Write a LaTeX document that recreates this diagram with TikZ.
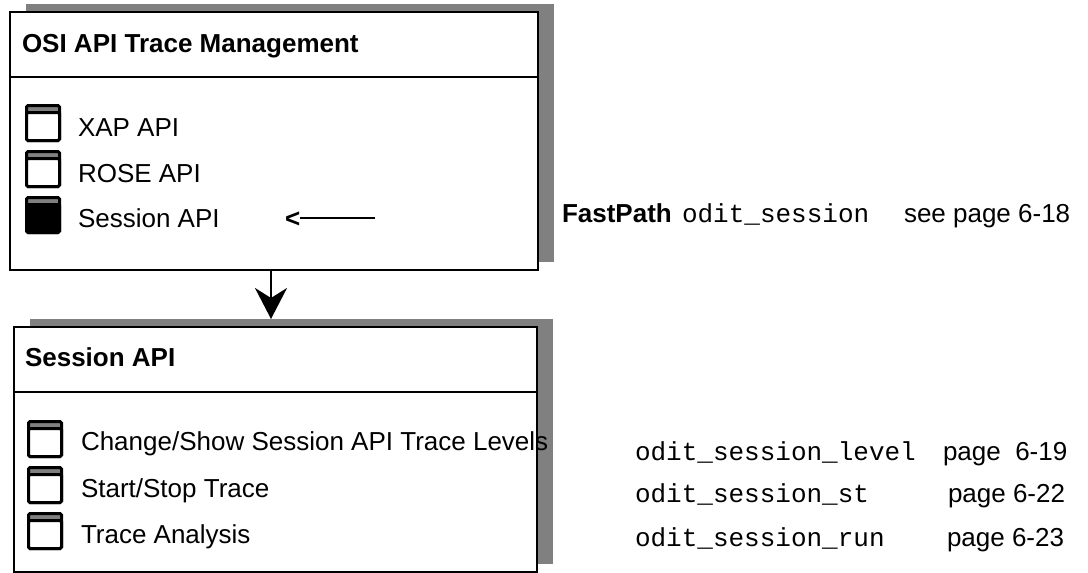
\documentclass[tikz,border=0pt]{standalone}
\usepackage{fontspec}
\setmainfont{Liberation Sans}
\setmonofont{Liberation Mono}
\usetikzlibrary{arrows.meta}
\newcommand\chkbox[3]{%
  \draw[line width=3pt, rounded corners=1.5pt, fill=black!50] (#1+1.5,#2+1.5) rectangle (#1+34.5,#2+36.5);
  \draw[line width=3pt, rounded corners=1.5pt, fill=#3] (#1+1.5,#2+8.5) rectangle (#1+34.5,#2+36.5);
}
\begin{document}
\begin{tikzpicture}[x=1pt,y=-1pt,
  shadowbox/.style={fill=black!50, draw=none, inner sep=0pt, outer sep=0pt, anchor=north west},
  mainbox/.style={fill=white, draw=black, line width=2.5pt, inner sep=0pt, outer sep=0pt, anchor=north west},
  lbl/.style={anchor=base west, inner sep=0pt, outer sep=0pt, font=\fontsize{26}{30}\selectfont},
  blbl/.style={lbl, font=\fontsize{26}{30}\selectfont\bfseries},
  mlbl/.style={lbl, font=\fontsize{26}{30}\selectfont\ttfamily},
  rule/.style={line width=2.5pt}
]
\useasboundingbox[fill=white] (0,0) rectangle (1088,573);

% top box
\node[shadowbox, minimum width=528pt, minimum height=258pt] (shadowA) at (26,4) {};
\node[mainbox, minimum width=528pt, minimum height=258pt] (topbox) at (10,12) {};
\draw[rule] (topbox.west |- 0,77) -- (topbox.east |- 0,77);
\node[blbl] (titleA) at (22,52) {OSI API Trace Management};
\chkbox{25}{104}{white}
\chkbox{25}{150}{white}
\chkbox{25}{196}{black}
\node[lbl] (xap) at (78,136) {XAP API};
\node[lbl] (rose) at (78,182) {ROSE API};
\node[lbl] (sess) at (78,227) {Session API};
\node[blbl] (lt) at (285,227) {<};
\coordinate (ltend) at (375,218);
\draw[rule] (lt.east |- ltend) -- (ltend);

% bottom box
\node[shadowbox, minimum width=523pt, minimum height=245pt] (shadowB) at (30,319) {};
\node[mainbox, minimum width=523pt, minimum height=245pt] (botbox) at (14,327) {};
\draw[rule] (botbox.west |- 0,392) -- (botbox.east |- 0,392);
\node[blbl] (titleB) at (25,366) {Session API};
\chkbox{27}{420}{white}
\chkbox{27}{466}{white}
\chkbox{27}{512}{white}
\node[lbl] (chg) at (81,450) {Change/Show Session API Trace Levels};
\node[lbl] (ss) at (81,497) {Start/Stop Trace};
\node[lbl] (ta) at (81,543) {Trace Analysis};

% arrow between boxes
\coordinate (arrX) at (271,0);
\draw[rule, -{Stealth[length=31pt, width=32pt, inset=10pt]}] (topbox.south -| arrX) -- (shadowB.north -| arrX);

% right texts
\node[blbl] (fp) at (562,222) {FastPath};
\node[mlbl] (os) at (682,222) {odit\_session};
\node[lbl] (sp) at (904,222) {see page 6-18};

\node[mlbl] (l1) at (635,460) {odit\_session\_level};
\node[lbl] (p1) at (943,460) {page\ \ 6-19};
\node[mlbl] (l2) at (635,502) {odit\_session\_st};
\node[lbl] (p2) at (948,502) {page 6-22};
\node[mlbl] (l3) at (635,546) {odit\_session\_run};
\node[lbl] (p3) at (947,546) {page 6-23};
\end{tikzpicture}
\end{document}
